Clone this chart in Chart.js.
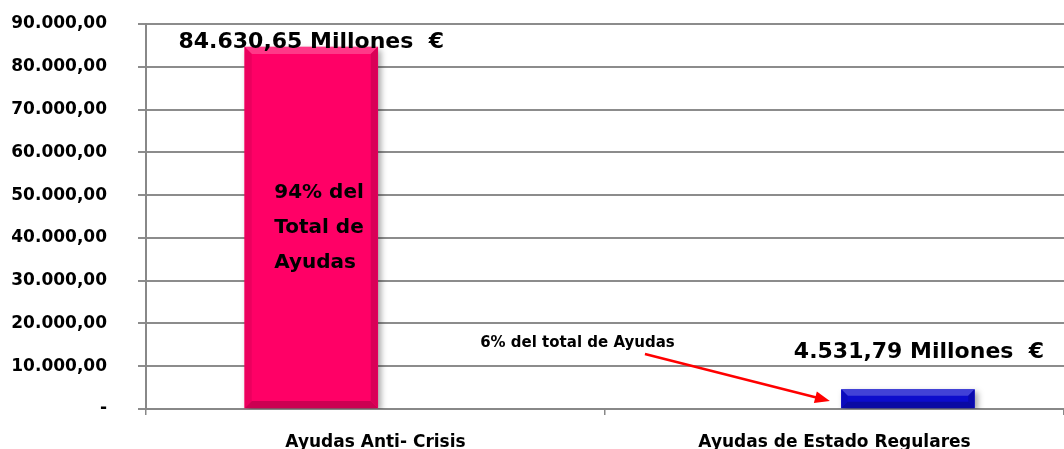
<!DOCTYPE html>
<html>
<head>
<meta charset="utf-8">
<script src="https://cdn.jsdelivr.net/npm/chart.js@4.4.1/dist/chart.umd.min.js"></script>
<style>
    html, body { margin: 0; padding: 0; background: #fff; }
</style>
</head>
<body>
<canvas id="myChart" width="1064" height="449"></canvas>
<script>
const categories = ['Ayudas Anti- Crisis', 'Ayudas de Estado Regulares'];
const values = [84630.65, 4531.79];
const yTicks = [0, 10000, 20000, 30000, 40000, 50000, 60000, 70000, 80000, 90000];
const insideText = ['94% del', 'Total de', 'Ayudas'];
const noteText = '6% del total de Ayudas';
const unitText = ' Millones  €';

// where the bars sit on the hidden 0..2 strip (the original is not centred)
const barPositions = [0.36, 1.66];
const barColors = ['#ff0066', '#0c0ccc'];
const FONT = '"DejaVu Sans", sans-serif';

function formatEs(n) {
    let parts = n.toFixed(2).split('.');
    let int = parts[0].replace(/\B(?=(\d{3})+(?!\d))/g, '.');
    return int + ',' + parts[1];
}

function shade(hex, amt) {
    let r = parseInt(hex.slice(1, 3), 16);
    let g = parseInt(hex.slice(3, 5), 16);
    let b = parseInt(hex.slice(5, 7), 16);
    const mix = c => amt > 0 ? Math.round(c + (255 - c) * amt) : Math.round(c * (1 + amt));
    return `rgb(${mix(r)}, ${mix(g)}, ${mix(b)})`;
}

// soft shadow + bevel like the office chart
const bevelPlugin = {
    id: 'bevel',
    beforeDatasetsDraw(chart) {
        const ctx = chart.ctx;
        ctx.save();
        ctx.shadowColor = 'rgba(0, 0, 0, 0.35)';
        ctx.shadowBlur = 6;
        ctx.shadowOffsetX = 3;
        ctx.shadowOffsetY = 3;
    },
    afterDatasetsDraw(chart) {
        const ctx = chart.ctx;
        ctx.restore();
        const meta = chart.getDatasetMeta(0);
        meta.data.forEach((bar, i) => {
            const p = bar.getProps(['x', 'y', 'base', 'width'], true);
            const l = p.x - p.width / 2, r = p.x + p.width / 2, t = p.y, b = p.base;
            const s = Math.min(7, (b - t) / 3);
            const col = barColors[i];
            const quad = (pts, fill) => {
                ctx.beginPath();
                ctx.moveTo(pts[0][0], pts[0][1]);
                for (let k = 1; k < pts.length; k++) ctx.lineTo(pts[k][0], pts[k][1]);
                ctx.closePath();
                ctx.fillStyle = fill;
                ctx.fill();
            };
            quad([[l, t], [r, t], [r - s, t + s], [l + s, t + s]], shade(col, 0.22));
            quad([[l, b], [r, b], [r - s, b - s], [l + s, b - s]], shade(col, -0.2));
            quad([[l, t], [l + s, t + s], [l + s, b - s], [l, b]], shade(col, -0.08));
            quad([[r, t], [r - s, t + s], [r - s, b - s], [r, b]], shade(col, -0.15));
        });
    }
};

const notesPlugin = {
    id: 'notes',
    afterDraw(chart) {
        const ctx = chart.ctx;
        const xb = chart.scales.xb;
        const y = chart.scales.y;
        ctx.save();
        ctx.fillStyle = '#000';
        ctx.textBaseline = 'alphabetic';

        // value labels above the bars
        const shifts = [[0, 1], [11, -32]];
        ctx.font = 'bold 22px ' + FONT;
        ctx.textAlign = 'center';
        values.forEach((v, i) => {
            const px = xb.getPixelForValue(barPositions[i]) + shifts[i][0];
            const py = y.getPixelForValue(v) + shifts[i][1];
            ctx.fillText(formatEs(v) + unitText, px, py);
        });

        // text inside the pink bar
        ctx.font = 'bold 20px ' + FONT;
        ctx.textAlign = 'left';
        const ix = xb.getPixelForValue(barPositions[0]) - 37;
        const iy = y.getPixelForValue(49300);
        insideText.forEach((line, k) => ctx.fillText(line, ix, iy + k * 35));

        // note with arrow to the small bar
        ctx.font = 'bold 15px ' + FONT;
        ctx.fillText(noteText, xb.getPixelForValue(0.728), y.getPixelForValue(14500));

        const x0 = xb.getPixelForValue(1.087), y0 = y.getPixelForValue(12860);
        const x1 = xb.getPixelForValue(1.49), y1 = y.getPixelForValue(1870);
        const ang = Math.atan2(y1 - y0, x1 - x0);
        ctx.strokeStyle = '#ff0000';
        ctx.fillStyle = '#ff0000';
        ctx.lineWidth = 2.5;
        ctx.beginPath();
        ctx.moveTo(x0, y0);
        ctx.lineTo(x1 - 12 * Math.cos(ang), y1 - 12 * Math.sin(ang));
        ctx.stroke();
        ctx.beginPath();
        ctx.moveTo(x1, y1);
        ctx.lineTo(x1 - 15 * Math.cos(ang) + 6 * Math.sin(ang), y1 - 15 * Math.sin(ang) - 6 * Math.cos(ang));
        ctx.lineTo(x1 - 15 * Math.cos(ang) - 6 * Math.sin(ang), y1 - 15 * Math.sin(ang) + 6 * Math.cos(ang));
        ctx.closePath();
        ctx.fill();
        ctx.restore();
    }
};

const ctx = document.getElementById('myChart').getContext('2d');
new Chart(ctx, {
    type: 'bar',
    data: {
        labels: categories,
        datasets: [{
            data: values.map((v, i) => ({ x: barPositions[i], y: v })),
            xAxisID: 'xb',
            backgroundColor: barColors,
            barThickness: 133,
            borderWidth: 0,
        }]
    },
    options: {
        responsive: false,
        animation: false,
        layout: { padding: { top: 24, right: 0, bottom: 0, left: 0 } },
        plugins: {
            legend: { display: false },
            tooltip: { enabled: false },
        },
        scales: {
            x: {
                type: 'category',
                offset: true,
                grid: {
                    offset: true,
                    drawOnChartArea: false,
                    tickLength: 6,
                    color: '#888',
                    lineWidth: 1.5,
                },
                border: { color: '#888', width: 2 },
                ticks: {
                    color: '#000',
                    padding: 17,
                    font: { family: FONT, weight: 'bold', size: 17 },
                },
                afterFit: scale => { scale.height = 40; },
            },
            xb: {
                type: 'linear',
                display: false,
                offset: false,
                min: 0,
                max: 2,
            },
            y: {
                min: 0,
                max: 90000,
                afterBuildTicks: scale => { scale.ticks = yTicks.map(v => ({ value: v })); },
                ticks: {
                    color: '#000',
                    padding: 31,
                    font: { family: FONT, weight: 'bold', size: 17 },
                    callback: v => v === 0 ? '-' : formatEs(v),
                },
                grid: { color: '#8c8c8c', lineWidth: 2, tickLength: 8 },
                border: { color: '#888', width: 2 },
                afterFit: scale => {
                    scale.width = 146;
                    scale.paddingTop = 0;
                    scale.paddingBottom = 0;
                },
            }
        }
    },
    plugins: [bevelPlugin, notesPlugin],
});
</script>
</body>
</html>
